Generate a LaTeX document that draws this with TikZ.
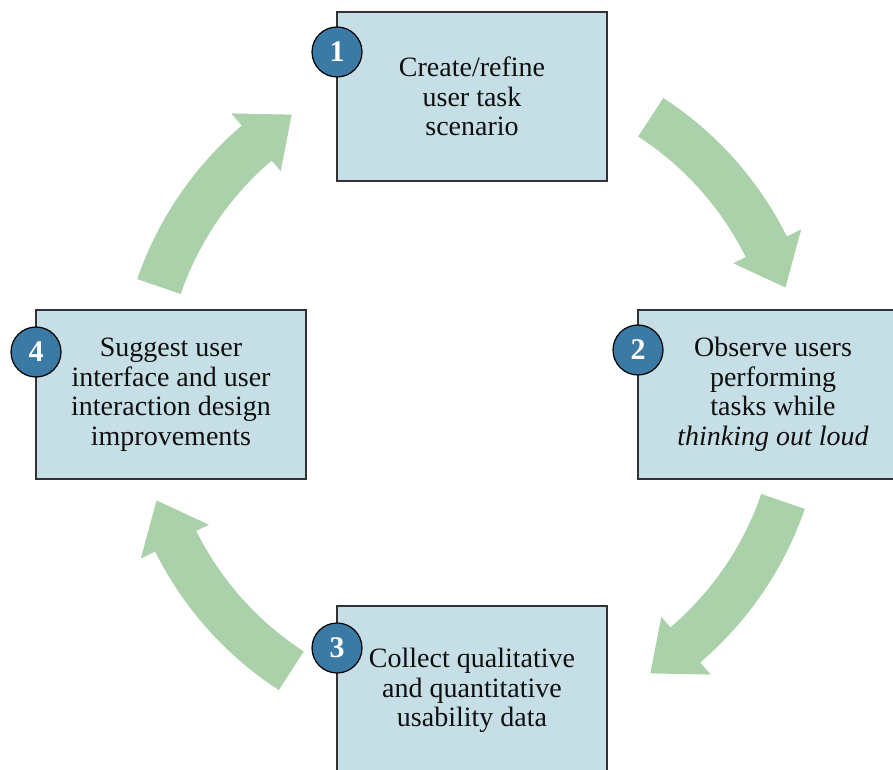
\documentclass[tikz,border=0pt]{standalone}
\usepackage{fontspec}
\setmainfont{Liberation Serif}
\definecolor{boxfill}{RGB}{198,223,230}
\definecolor{boxline}{RGB}{50,50,50}
\definecolor{numfill}{RGB}{58,122,164}
\definecolor{arrowgreen}{RGB}{171,209,171}
\definecolor{inktext}{RGB}{15,15,15}
\begin{document}
\begin{tikzpicture}[x=1pt,y=1pt,
  stepbox/.style={draw=boxline, line width=1.3pt, fill=boxfill,
    minimum width=270pt, minimum height=169pt, inner sep=0pt,
    align=center, text=inktext, font=\fontsize{28}{29.5}\selectfont},
  numdot/.style={circle, draw=black, line width=1.2pt, fill=numfill,
    minimum size=50pt, inner sep=0pt, text=white,
    font=\fontsize{30}{30}\bfseries\selectfont},
  cyc/.style={fill=arrowgreen}]
\useasboundingbox (0,0) rectangle (893,769);
\coordinate (C) at (471,375);
% cycle arrows
\begin{scope}[shift={(C)}]
\foreach \a in {57,-19,-123,161}{
  \pgfmathsetmacro\hb{\a-30.5}
  \pgfmathsetmacro\tp{\a-38.3}
  \fill[cyc] (\a:353pt) arc[start angle=\a, end angle=\hb, radius=353pt]
    -- (\hb:369pt) -- (\tp:332pt) -- (\hb:293pt) -- (\hb:307pt)
    arc[start angle=\hb, end angle=\a, radius=307pt] -- cycle;
}
\end{scope}
% boxes
\node[stepbox] (b1) at (472,672.5) {Create/refine\\user task\\scenario};
\node[stepbox] (b2) at (773,374.5) {Observe users\\performing\\tasks while\\\textit{thinking out loud}};
\node[stepbox] (b3) at (472,78.5) {Collect qualitative\\and quantitative\\usability data};
\node[stepbox] (b4) at (171,374.5) {Suggest user\\interface and user\\interaction design\\improvements};
% number badges
\node[numdot] (n1) at (337,717) {1};
\node[numdot] (n2) at (638,419) {2};
\node[numdot] (n3) at (337,121) {3};
\node[numdot] (n4) at (36,417) {4};
\end{tikzpicture}
\end{document}
